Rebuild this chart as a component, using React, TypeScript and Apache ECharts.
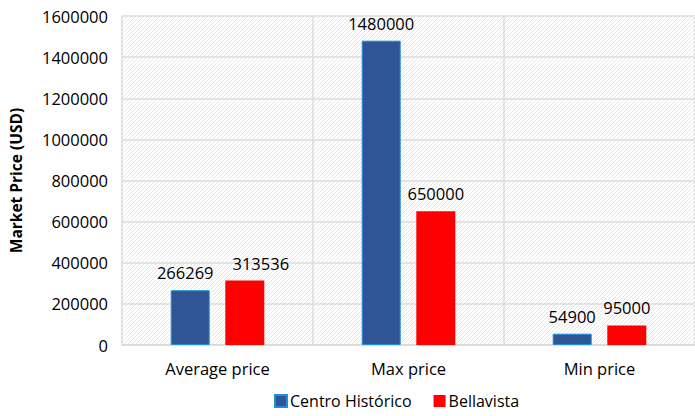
import React, { useEffect, useRef } from "react";
import * as echarts from "echarts";

const categories = ["Average price", "Max price", "Min price"];
const centroValues = [266269, 1480000, 54900];
const bellavistaValues = [313536, 650000, 95000];
const seriesNames = ["Centro Histórico", "Bellavista"];
// horizontal nudges of data labels (as in the reference, to avoid overlap)
const centroLabelShift = [-5, 0, 0];
const bellavistaLabelShift = [16, 0, 0];

function makeHatch(): string {
  const c = document.createElement("canvas");
  c.width = 4;
  c.height = 4;
  const ctx = c.getContext("2d")!;
  ctx.fillStyle = "#ffffff";
  ctx.fillRect(0, 0, 4, 4);
  ctx.fillStyle = "#e6e6e6";
  for (let i = 0; i < 4; i++) {
    ctx.fillRect(3 - i, i, 1, 1);
  }
  return c.toDataURL();
}

export default function App() {
  const ref = useRef<HTMLDivElement>(null);
  useEffect(() => {
    if (!ref.current) return;
    const chart = echarts.init(ref.current, undefined, { renderer: "svg" });
    const font = "'Open Sans', 'Noto Sans', sans-serif";
    let bg: any = "#f1f1f1";
    try {
      bg = { image: makeHatch(), repeat: "repeat" };
    } catch (e) {}
    const fs = 16.5;
    const withShift = (vals: number[], shifts: number[]) =>
      vals.map((v, i) => ({ value: v, label: { offset: [shifts[i], 0] } }));
    chart.setOption({
      animation: false,
      textStyle: { fontFamily: font },
      grid: {
        left: 118,
        top: 16,
        bottom: 71,
        width: 589,
        backgroundColor: bg,
        show: true,
        borderWidth: 0,
      },
      legend: {
        data: seriesNames,
        bottom: 2,
        left: 269,
        itemWidth: 12,
        itemHeight: 12,
        itemGap: 22,
        icon: "rect",
        textStyle: { fontSize: 16, color: "#000", fontFamily: font, padding: [0, 0, 0, -2] },
      },
      xAxis: {
        type: "category",
        data: categories,
        axisTick: { show: false },
        axisLine: { lineStyle: { color: "#d9d9d9", width: 1.5 } },
        axisLabel: { fontSize: fs, color: "#000", margin: 15, fontFamily: font },
        splitLine: { show: true, lineStyle: { color: "#dcdcdc", width: 1.5 } },
      },
      yAxis: {
        type: "value",
        min: 0,
        max: 1600000,
        interval: 200000,
        name: "Market Price (USD)",
        nameLocation: "middle",
        nameGap: 98,
        nameTextStyle: { fontSize: 15.5, fontWeight: "bold", color: "#000", fontFamily: font },
        axisLine: { show: false },
        axisTick: { show: false },
        axisLabel: {
          fontSize: fs,
          color: "#000",
          margin: 14,
          fontFamily: font,
          formatter: (v: number) => String(v),
        },
        splitLine: { lineStyle: { color: "#dcdcdc", width: 1.5 } },
      },
      series: [
        {
          name: seriesNames[0],
          type: "bar",
          data: withShift(centroValues, centroLabelShift),
          barWidth: 39,
          barGap: "40%",
          itemStyle: { color: "#2f5597", borderColor: "#1f8fd8", borderWidth: 1 },
          label: { show: true, position: "top", fontSize: fs, color: "#000", distance: 9, fontFamily: font },
        },
        {
          name: seriesNames[1],
          type: "bar",
          data: withShift(bellavistaValues, bellavistaLabelShift),
          barWidth: 39,
          itemStyle: { color: "#ff0000" },
          label: { show: true, position: "top", fontSize: fs, color: "#000", distance: 9, fontFamily: font },
        },
      ],
    });
    return () => chart.dispose();
  }, []);
  return <div ref={ref} style={{ width: 695, height: 416, position: "absolute", left: 0, top: 0 }} />;
}
